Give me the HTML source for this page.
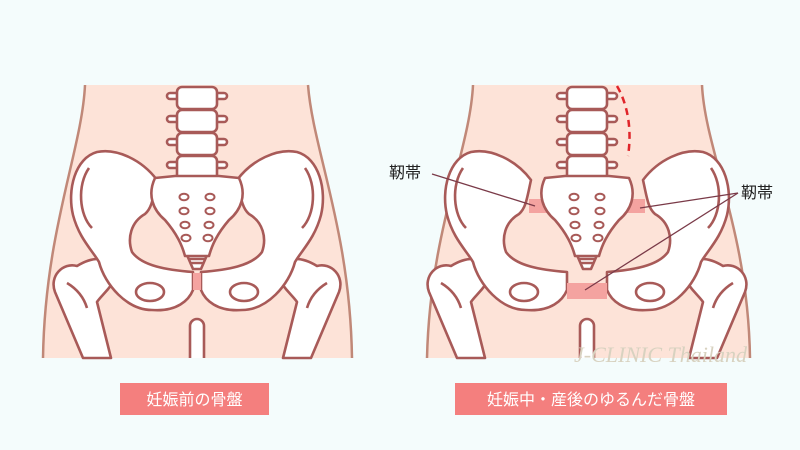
<!DOCTYPE html>
<html><head><meta charset="utf-8"><style>
html,body{margin:0;padding:0;background:#f4fcfc;}
svg{display:block}
text{font-family:"Liberation Sans","Noto Sans CJK JP",sans-serif}
</style></head><body>
<svg width="800" height="450" viewBox="0 0 800 450" xmlns="http://www.w3.org/2000/svg">
<defs>
<g id="vert" stroke="#a85a58" stroke-width="2.6" fill="#fff" stroke-linejoin="round">
  <rect x="-30" y="93" width="60" height="6" rx="3"/>
  <rect x="-30" y="116" width="60" height="6" rx="3"/>
  <rect x="-30" y="139" width="60" height="6" rx="3"/>
  <rect x="-30" y="162" width="60" height="6" rx="3"/>
  <rect x="-20" y="87" width="40" height="22" rx="5"/>
  <rect x="-20" y="110" width="40" height="22" rx="5"/>
  <rect x="-20" y="133" width="40" height="22" rx="5"/>
  <rect x="-20" y="156" width="40" height="24" rx="5"/>
</g>
<g id="sac" stroke="#a85a58" stroke-width="2.6" fill="#fff" stroke-linejoin="round">
  <path d="M-10,255 L10,255 L4,269 L-4,269 Z"/>
  <path d="M-8,259 H8 M-6,263 H6" fill="none"/>
  <path d="M-42,178 L-22,176 L22,176 L42,178 C50,195 44,210 32,220 C20,234 15,245 12,256 L-12,256 C-15,245 -20,234 -32,220 C-44,210 -50,195 -42,178 Z"/>
  <g stroke-width="2">
  <ellipse cx="-13" cy="197" rx="4.5" ry="3.2"/><ellipse cx="13" cy="197" rx="4.5" ry="3.2"/>
  <ellipse cx="-13" cy="211" rx="4.5" ry="3.2"/><ellipse cx="13" cy="211" rx="4.5" ry="3.2"/>
  <ellipse cx="-12" cy="225" rx="4.5" ry="3.2"/><ellipse cx="12" cy="225" rx="4.5" ry="3.2"/>
  <ellipse cx="-11" cy="238" rx="4.5" ry="3.2"/><ellipse cx="11" cy="238" rx="4.5" ry="3.2"/>
  </g>
</g>
<g id="half" stroke="#a85a58" stroke-width="2.6" fill="#fff" stroke-linejoin="round">
  <path d="M-142,292 C-148,276 -134,262 -120,266 C-110,260 -98,256 -88,262 L-80,276 C-86,288 -96,296 -100,302 L-86,358 L-114,358 Z"/>
  <path d="M-130,283 C-120,289 -113,298 -110,308" fill="none"/>
  <path d="M-40,180 C-55,160 -80,148 -100,152 C-122,158 -130,190 -124,215 C-118,238 -105,250 -98,262 C-92,285 -70,310 -45,310 C-20,312 -8,300 -4,290 L-4,272 C-30,270 -55,266 -65,252 C-70,238 -66,222 -52,214 C-45,208 -44,198 -40,180 Z"/>
  <path d="M-108,168 C-120,185 -118,215 -105,228" fill="none"/>
  <ellipse cx="-47" cy="292" rx="14" ry="9"/>
</g>
</defs>

<!-- left panel -->
<path d="M85,85 C82,150 45,230 43,358 L352,358 C350,230 313,150 308,85 Z" fill="#fde3d8"/>
<path d="M85,85 C82,150 45,230 43,358 M308,85 C313,150 350,230 352,358" fill="none" stroke="#c08878" stroke-width="2.5"/>
<g transform="translate(197,0)">
  <use href="#vert"/>
  <use href="#half"/>
  <use href="#half" transform="scale(-1,1)"/>
  <use href="#sac"/>
  <rect x="-4" y="273" width="8" height="17" fill="#f4a3a0"/>
  <path d="M-7,358 V326 a7,7 0 0 1 14,0 V358" fill="#fff" stroke="#a85a58" stroke-width="2.6"/>
</g>

<!-- right panel -->
<path d="M473,85 C470,150 430,230 427,358 L750,358 C748,230 705,150 702,85 Z" fill="#fde3d8"/>
<path d="M473,85 C470,150 430,230 427,358 M702,85 C705,150 748,230 750,358" fill="none" stroke="#c08878" stroke-width="2.5"/>
<g transform="translate(587,0)">
  <use href="#vert"/>
  <rect x="-58" y="199" width="18" height="14" fill="#f4a3a0"/>
  <rect x="40" y="199" width="18" height="14" fill="#f4a3a0"/>
  <g transform="translate(-16,0)"><use href="#half"/></g>
  <g transform="translate(16,0) scale(-1,1)"><use href="#half"/></g>
  <use href="#sac"/>
  <rect x="-20" y="283" width="40" height="16" fill="#f4a3a0"/>
  <path d="M-7,358 V326 a7,7 0 0 1 14,0 V358" fill="#fff" stroke="#a85a58" stroke-width="2.6"/>
</g>
<path d="M617,86 C628,105 632,130 628,156" fill="none" stroke="#e0252a" stroke-width="2.5" stroke-dasharray="7,5"/>

<!-- annotation lines -->
<g stroke="#7a3a48" stroke-width="1.3" fill="none">
  <path d="M432,174 L535,206"/>
  <path d="M738,193 L640,208"/>
  <path d="M738,193 L585,290"/>
</g>
<text x="389" y="178" font-size="16" fill="#222">靭帯</text>
<text x="741" y="198" font-size="16" fill="#222">靭帯</text>
<text x="574" y="362" font-size="22" font-style="italic" fill="#d8d2c0" style="font-family:'Liberation Serif',serif">J-CLINIC Thailand</text>

<!-- labels -->
<rect x="120" y="383" width="149" height="32" fill="#f47f7e"/>
<text x="194.5" y="405" font-size="16" fill="#fff" text-anchor="middle">妊娠前の骨盤</text>
<rect x="455" y="383" width="272" height="32" fill="#f47f7e"/>
<text x="591" y="405" font-size="16" fill="#fff" text-anchor="middle">妊娠中・産後のゆるんだ骨盤</text>
</svg>
</body></html>
